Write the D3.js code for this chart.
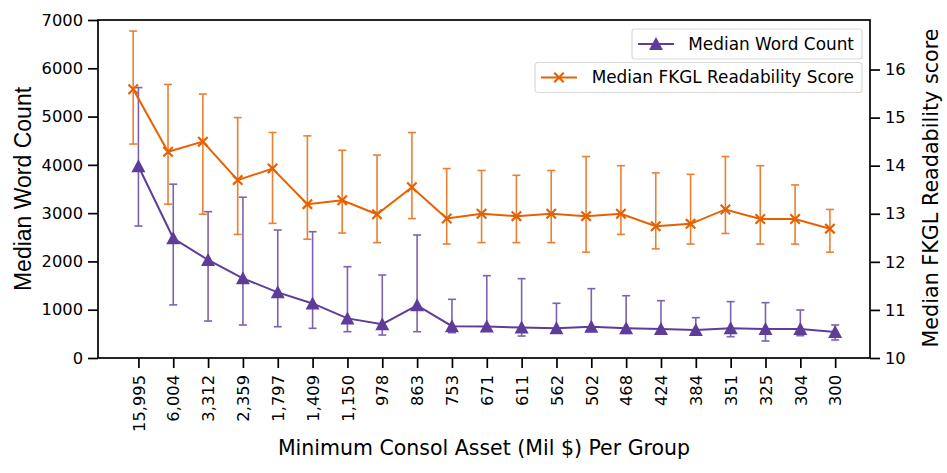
<!DOCTYPE html>
<html>
<head>
<meta charset="utf-8">
<script src="https://cdn.jsdelivr.net/npm/d3@7"></script>
<style>
  body { margin: 0; background: #fff; }
  text { font-family: "DejaVu Sans", sans-serif; }
</style>
</head>
<body>
<svg id="chart"></svg>
<script>
var groups = ["15,995","6,004","3,312","2,359","1,797","1,409","1,150","978","863","753","671","611","562","502","468","424","384","351","325","304","300"];

var wordMedian = [3970,2480,2030,1650,1360,1130,820,700,1090,660,650,630,615,645,615,600,580,615,600,600,540];
var wordHigh   = [5600,3600,3030,3330,2650,2615,1890,1718,2547,1215,1705,1643,1133,1436,1290,1187,835,1167,1146,994,683];
var wordLow    = [2733,1100,766,683,648,615,545,476,545,524,600,455,600,620,510,580,490,441,352,462,373];

var fkglMedian = [15.59,14.29,14.5,13.7,13.94,13.2,13.28,12.99,13.55,12.9,13.0,12.95,13.0,12.95,13.0,12.74,12.79,13.09,12.89,12.89,12.69];
var fkglHigh   = [16.8,15.69,15.49,15.0,14.69,14.62,14.32,14.22,14.69,13.94,13.9,13.8,13.9,14.19,14.0,13.85,13.82,14.19,14.0,13.6,13.09];
var fkglLow    = [14.45,13.2,12.99,12.57,12.8,12.47,12.6,12.4,12.9,12.37,12.4,12.4,12.4,12.2,12.57,12.27,12.37,12.59,12.37,12.37,12.2];

var leftTicks = [0,1000,2000,3000,4000,5000,6000,7000];
var rightTicks = [10,11,12,13,14,15,16];

var purple = "#5e3c99", orange = "#e66101";
var W = 947, H = 473;
var mLeft = 98, mRight = 870, mTop = 20, mBottom = 358;

var svg = d3.select("#chart").attr("width", W).attr("height", H);

var x = d3.scaleLinear().domain([-1.16, 21.0]).range([mLeft, mRight]);
var yL = d3.scaleLinear().domain([0, 7000]).range([mBottom, mTop]);
var yR = d3.scaleLinear().domain([10, 17.03]).range([mBottom, mTop]);
var offset = 0.15;

// axes
var xAxis = d3.axisBottom(x).tickValues(d3.range(groups.length))
  .tickFormat(function(i) { return groups[i]; }).tickSize(10).tickPadding(5);
var gx = svg.append("g").attr("transform", "translate(0," + mBottom + ")").call(xAxis);

var gl = svg.append("g").attr("transform", "translate(" + mLeft + ",0)")
  .call(d3.axisLeft(yL).tickValues(leftTicks).tickFormat(d3.format("d")).tickSize(10).tickPadding(5));
var gr = svg.append("g").attr("transform", "translate(" + mRight + ",0)")
  .call(d3.axisRight(yR).tickValues(rightTicks).tickFormat(d3.format("d")).tickSize(10).tickPadding(5));

[gx, gl, gr].forEach(function(g) {
  g.select(".domain").remove();
  g.selectAll("line").attr("stroke", "#000").attr("stroke-width", 1.7);
  g.selectAll("text").attr("font-size", 16.3).attr("fill", "#000")
    .style("font-family", "'DejaVu Sans', sans-serif");
});
gx.selectAll("text")
  .attr("transform", "rotate(-90)")
  .attr("text-anchor", "end")
  .attr("x", -17).attr("y", 0).attr("dy", "0.35em");

svg.append("rect").attr("x", mLeft).attr("y", mTop)
  .attr("width", mRight - mLeft).attr("height", mBottom - mTop)
  .attr("fill", "none").attr("stroke", "#000").attr("stroke-width", 1.7);

// labels
svg.append("text").attr("transform", "translate(31," + ((mTop + mBottom) / 2) + ") rotate(-90)")
  .attr("text-anchor", "middle").attr("font-size", 23)
  .style("font-family", "'Liberation Sans', Arial, sans-serif")
  .text("Median Word Count");
svg.append("text").attr("transform", "translate(938,188) rotate(-90)")
  .attr("text-anchor", "middle").attr("font-size", 20.7)
  .text("Median FKGL Readability score");
svg.append("text").attr("x", 484).attr("y", 455)
  .attr("text-anchor", "middle").attr("font-size", 20.5)
  .text("Minimum Consol Asset (Mil $) Per Group");

function errorBars(g, xs, lo, hi, y, color) {
  var cap = 4;
  var eb = g.append("g").attr("stroke", color).attr("stroke-width", 1.6).attr("opacity", 0.8);
  eb.selectAll(".v").data(xs).enter().append("line")
    .attr("x1", function(d) { return x(d); }).attr("x2", function(d) { return x(d); })
    .attr("y1", function(d, i) { return y(lo[i]); }).attr("y2", function(d, i) { return y(hi[i]); });
  eb.selectAll(".t").data(xs).enter().append("line")
    .attr("x1", function(d) { return x(d) - cap; }).attr("x2", function(d) { return x(d) + cap; })
    .attr("y1", function(d, i) { return y(hi[i]); }).attr("y2", function(d, i) { return y(hi[i]); });
  eb.selectAll(".b").data(xs).enter().append("line")
    .attr("x1", function(d) { return x(d) - cap; }).attr("x2", function(d) { return x(d) + cap; })
    .attr("y1", function(d, i) { return y(lo[i]); }).attr("y2", function(d, i) { return y(lo[i]); });
}

// matplotlib-style triangle (base 2, height 2 scaled)
var tri = "M0,-7L7,6L-7,6Z";
var cross = d3.symbol().type(d3.symbolX).size(60);

// word count
var wx = d3.range(groups.length);
var gw = svg.append("g");
errorBars(gw, wx, wordLow, wordHigh, yL, purple);
gw.append("path")
  .datum(wordMedian)
  .attr("fill", "none").attr("stroke", purple).attr("stroke-width", 2)
  .attr("d", d3.line().x(function(d, i) { return x(i); }).y(function(d) { return yL(d); }));
gw.selectAll(".m").data(wordMedian).enter().append("path")
  .attr("d", tri).attr("fill", purple)
  .attr("transform", function(d, i) { return "translate(" + x(i) + "," + yL(d) + ")"; });

// FKGL
var fx = wx.map(function(i) { return i - offset; });
var gf = svg.append("g");
errorBars(gf, fx, fkglLow, fkglHigh, yR, orange);
gf.append("path")
  .datum(fkglMedian)
  .attr("fill", "none").attr("stroke", orange).attr("stroke-width", 2)
  .attr("d", d3.line().x(function(d, i) { return x(fx[i]); }).y(function(d) { return yR(d); }));
gf.selectAll(".m").data(fkglMedian).enter().append("path")
  .attr("d", cross).attr("fill", "none").attr("stroke", orange).attr("stroke-width", 2.2)
  .attr("transform", function(d, i) { return "translate(" + x(fx[i]) + "," + yR(d) + ")"; });

// legends
function legend(x0, y0, w, label, color, marker) {
  var g = svg.append("g").attr("transform", "translate(" + x0 + "," + y0 + ")");
  g.append("rect").attr("width", w).attr("height", 30).attr("rx", 3)
    .attr("fill", "#fff").attr("fill-opacity", 0.8).attr("stroke", "#d9d9d9").attr("stroke-width", 1.2);
  g.append("line").attr("x1", 6).attr("x2", 42).attr("y1", 15).attr("y2", 15)
    .attr("stroke", color).attr("stroke-width", 2);
  var m = g.append("path").attr("transform", "translate(24,15)");
  if (marker === "tri") m.attr("d", tri).attr("fill", color);
  else m.attr("d", cross).attr("fill", "none").attr("stroke", color).attr("stroke-width", 2.2);
  g.append("text").attr("x", w - 8).attr("y", 20.5).attr("text-anchor", "end")
    .attr("font-size", 16.9).attr("fill", "#000").text(label);
}
legend(632, 29, 230, "Median Word Count", purple, "tri");
legend(535, 62.5, 327, "Median FKGL Readability Score", orange, "x");
</script>
</body>
</html>
